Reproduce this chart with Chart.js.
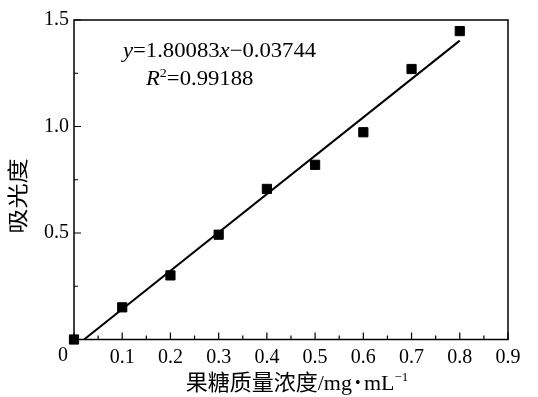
<!DOCTYPE html>
<html>
<head>
<meta charset="utf-8">
<script src="https://cdn.jsdelivr.net/npm/chart.js@4"></script>
<style>
  body { margin: 0; background: #fff; }
  #wrap { width: 538px; height: 397px; }
</style>
</head>
<body>
<div id="wrap"><canvas id="chart" width="538" height="397"></canvas></div>
<script>
// 果糖标准曲线数据
const concentration = [0, 0.1, 0.2, 0.3, 0.4, 0.5, 0.6, 0.7, 0.8];
const absorbance = [0.0, 0.151, 0.301, 0.492, 0.707, 0.820, 0.973, 1.270, 1.448];
const slope = 1.80083;
const intercept = -0.03744;
const fitRange = [-intercept / slope, 0.8];
const xTicks = [0, 0.1, 0.2, 0.3, 0.4, 0.5, 0.6, 0.7, 0.8, 0.9];
const yTicks = [0, 0.5, 1.0, 1.5];

const serif = '"Liberation Serif", "Times New Roman", serif';
const cjk = '"Noto Sans CJK SC", sans-serif';

const scatterPts = concentration.map((c, i) => ({ x: c, y: absorbance[i] }));
const fitPts = fitRange.map(c => ({ x: c, y: slope * c + intercept }));

// box, inward ticks, titles and the equation
const decorations = {
  id: 'decorations',
  afterDraw(chart) {
    const ctx = chart.ctx;
    const area = chart.chartArea;
    const xs = chart.scales.x, ys = chart.scales.y;
    ctx.save();
    ctx.strokeStyle = '#000';
    ctx.lineWidth = 1.5;
    ctx.strokeRect(area.left, area.top, area.right - area.left, area.bottom - area.top);

    ctx.lineWidth = 1.2;
    ctx.beginPath();
    for (let i = 0; i < xTicks.length; i++) {
      const px = xs.getPixelForValue(xTicks[i]);
      ctx.moveTo(px, area.bottom); ctx.lineTo(px, area.bottom - 7);
      if (i < xTicks.length - 1) {
        const mx = xs.getPixelForValue((xTicks[i] + xTicks[i + 1]) / 2);
        ctx.moveTo(mx, area.bottom); ctx.lineTo(mx, area.bottom - 4);
      }
    }
    for (let i = 0; i < yTicks.length; i++) {
      const py = ys.getPixelForValue(yTicks[i]);
      ctx.moveTo(area.left, py); ctx.lineTo(area.left + 7, py);
      if (i < yTicks.length - 1) {
        const my = ys.getPixelForValue((yTicks[i] + yTicks[i + 1]) / 2);
        ctx.moveTo(area.left, my); ctx.lineTo(area.left + 4, my);
      }
    }
    ctx.stroke();

    ctx.fillStyle = '#000';
    // shared origin label
    ctx.font = '20px ' + serif;
    ctx.textAlign = 'center';
    ctx.textBaseline = 'alphabetic';
    ctx.fillText('0', xs.getPixelForValue(0) - 11, 361);

    // y title
    ctx.save();
    ctx.translate(17, 196);
    ctx.rotate(-Math.PI / 2);
    ctx.scale(1.2, 1);
    ctx.font = '21px ' + cjk;
    ctx.textBaseline = 'middle';
    ctx.fillText('吸光度', 0, 0);
    ctx.restore();

    // x title
    const parts = [
      ['果糖质量浓度', '22px ' + cjk, 0],
      ['/mg', '22px ' + serif, 0],
      ['\u2009•\u2009', '16px ' + serif, -2],
      ['mL', '22px ' + serif, 0],
      ['−1', '13px ' + serif, -9]
    ];
    let total = 0;
    parts.forEach(p => { ctx.font = p[1]; total += ctx.measureText(p[0]).width; });
    let cx = 297 - total / 2;
    ctx.textAlign = 'left';
    parts.forEach(p => {
      ctx.font = p[1];
      ctx.fillText(p[0], cx, 390 + p[2]);
      cx += ctx.measureText(p[0]).width;
    });

    // equation
    const drawRun = (runs, x0, base) => {
      let x = x0;
      runs.forEach(r => {
        ctx.font = r[1];
        ctx.fillText(r[0], x, base + (r[2] || 0));
        x += ctx.measureText(r[0]).width;
      });
    };
    ctx.save();
    ctx.scale(1.08, 1);
    drawRun([
      ['y', 'italic 21px ' + serif],
      ['=1.80083', '21px ' + serif],
      ['x', 'italic 21px ' + serif],
      ['−0.03744', '21px ' + serif]
    ], 123 / 1.08, 57);
    drawRun([
      ['R', 'italic 21px ' + serif],
      ['2', '13px ' + serif, -8],
      ['=0.99188', '21px ' + serif]
    ], 146 / 1.08, 85);
    ctx.restore();
    ctx.restore();
  }
};

new Chart(document.getElementById('chart'), {
  type: 'scatter',
  data: {
    datasets: [
      {
        label: 'fit',
        data: fitPts,
        showLine: true,
        borderColor: '#000',
        borderWidth: 2,
        pointRadius: 0,
        fill: false
      },
      {
        label: 'measured',
        data: scatterPts,
        pointStyle: 'rect',
        pointRadius: 6.5,
        backgroundColor: '#000',
        borderColor: '#000',
        borderWidth: 1,
        clip: false
      }
    ]
  },
  options: {
    responsive: false,
    animation: false,
    layout: { padding: { top: 20, right: 30, left: 0, bottom: 0 } },
    plugins: { legend: { display: false }, tooltip: { enabled: false } },
    scales: {
      x: {
        type: 'linear',
        min: 0, max: 0.9,
        afterBuildTicks: s => { s.ticks = xTicks.map(v => ({ value: v })); },
        afterFit: s => { s.height = 57.5; },
        grid: { display: false, drawTicks: false },
        border: { display: false },
        ticks: {
          color: '#000',
          padding: 6,
          font: { family: serif, size: 20 },
          callback: v => v === 0 ? '' : v.toFixed(1)
        }
      },
      y: {
        type: 'linear',
        min: 0, max: 1.5,
        afterBuildTicks: s => { s.ticks = yTicks.map(v => ({ value: v })); },
        afterFit: s => { s.width = 74; },
        grid: { display: false, drawTicks: false },
        border: { display: false },
        ticks: {
          color: '#000',
          padding: 5,
          font: { family: serif, size: 20 },
          callback: v => v === 0 ? '' : v.toFixed(1)
        }
      }
    }
  },
  plugins: [decorations]
});
</script>
</body>
</html>
